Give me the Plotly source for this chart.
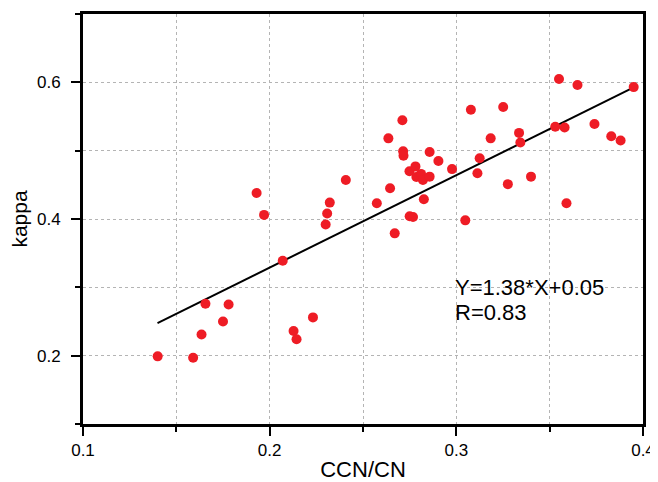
import plotly.graph_objects as go

# Data
ccn_cn = [0.140, 0.159, 0.1635, 0.1656, 0.175, 0.178, 0.193, 0.197, 0.207, 0.2128,
          0.2144, 0.2232, 0.230, 0.2308, 0.2322, 0.2408, 0.2574, 0.2636, 0.2645, 0.267,
          0.2711, 0.2715, 0.2717, 0.2749, 0.2750, 0.2768, 0.2781, 0.2786, 0.2811, 0.2821,
          0.2826, 0.2857, 0.2857, 0.2904, 0.2977, 0.3048, 0.3078, 0.3113, 0.3125, 0.3184,
          0.3251, 0.3276, 0.3336, 0.3343, 0.340, 0.353, 0.355, 0.358, 0.359, 0.3649,
          0.374, 0.383, 0.388, 0.395]
kappa = [0.199, 0.197, 0.231, 0.276, 0.250, 0.275, 0.438, 0.406, 0.339, 0.236,
         0.224, 0.256, 0.392, 0.408, 0.424, 0.457, 0.423, 0.518, 0.445, 0.379,
         0.5445, 0.499, 0.4925, 0.470, 0.404, 0.403, 0.477, 0.4615, 0.466, 0.457,
         0.429, 0.462, 0.498, 0.485, 0.473, 0.398, 0.560, 0.467, 0.489, 0.518,
         0.564, 0.451, 0.526, 0.512, 0.462, 0.535, 0.605, 0.534, 0.423, 0.596,
         0.539, 0.521, 0.515, 0.593]

fit_x = [0.1399, 0.395]
fit_y = [0.2477, 0.5927]

x_major = [0.1, 0.2, 0.3, 0.4]
x_labels = ["0.1", "0.2", "0.3", "0.4"]
y_major = [0.2, 0.4, 0.6]
y_labels = ["0.2", "0.4", "0.6"]
equation_lines = ["Y=1.38*X+0.05", "R=0.83"]
equation_y = [0.2995, 0.2635]

font_family = "Liberation Sans, Arial, sans-serif"
grid_color = "#b4b4b4"

fig = go.Figure()
fig.add_trace(go.Scatter(x=fit_x, y=fit_y, mode="lines",
                         line=dict(color="black", width=2), showlegend=False,
                         hoverinfo="skip"))
fig.add_trace(go.Scatter(x=ccn_cn, y=kappa, mode="markers",
                         marker=dict(color="#EE1C25", size=10, line=dict(width=0)),
                         showlegend=False))

for txt, ty in zip(equation_lines, equation_y):
    fig.add_annotation(x=0.2982, y=ty, xref="x", yref="y", text=txt,
                       showarrow=False, xanchor="left", yanchor="middle", align="left",
                       font=dict(family=font_family, size=22, color="black"))

axis_common = dict(showline=True, linecolor="black", linewidth=3, mirror=True,
                   ticks="outside", tickcolor="black", tickwidth=2, ticklen=9,
                   zeroline=False, showgrid=True, gridcolor=grid_color,
                   griddash="dot", gridwidth=1, automargin=False,
                   tickfont=dict(family=font_family, size=17, color="black"))

fig.update_layout(
    width=650, height=474,
    margin=dict(l=75, r=15, t=6, b=58),
    paper_bgcolor="white", plot_bgcolor="white",
    xaxis=dict(range=[0.1, 0.4], tickvals=x_major, ticktext=x_labels,
               minor=dict(dtick=0.05, tick0=0.1, ticks="outside", ticklen=5,
                          tickwidth=2, tickcolor="black", showgrid=True,
                          gridcolor=grid_color, griddash="dot", gridwidth=1),
               title=dict(text="CCN/CN",
                          font=dict(family=font_family, size=22, color="black")),
               **axis_common),
    yaxis=dict(range=[0.1, 0.7], tickvals=y_major, ticktext=y_labels,
               ticklabelstandoff=7,
               minor=dict(dtick=0.1, tick0=0.1, ticks="outside", ticklen=5,
                          tickwidth=2, tickcolor="black", showgrid=True,
                          gridcolor=grid_color, griddash="dot", gridwidth=1),
               title=dict(text="kappa",
                          font=dict(family=font_family, size=21, color="black")),
               **axis_common),
    xaxis2=dict(range=[0.1, 0.4], overlaying="x", anchor="y", side="top",
                tickvals=x_major, ticks="inside", ticklen=6, tickwidth=2,
                tickcolor="black", showticklabels=False, showgrid=False,
                showline=False, zeroline=False, automargin=False,
                minor=dict(dtick=0.05, tick0=0.1, ticks="inside", ticklen=4,
                           tickwidth=2, tickcolor="black")),
    yaxis2=dict(range=[0.1, 0.7], overlaying="y", anchor="x", side="right",
                tickvals=y_major, ticks="inside", ticklen=6, tickwidth=2,
                tickcolor="black", showticklabels=False, showgrid=False,
                showline=False, zeroline=False, automargin=False,
                minor=dict(dtick=0.1, tick0=0.1, ticks="inside", ticklen=4,
                           tickwidth=2, tickcolor="black")),
)

fig.write_html("out.html")
